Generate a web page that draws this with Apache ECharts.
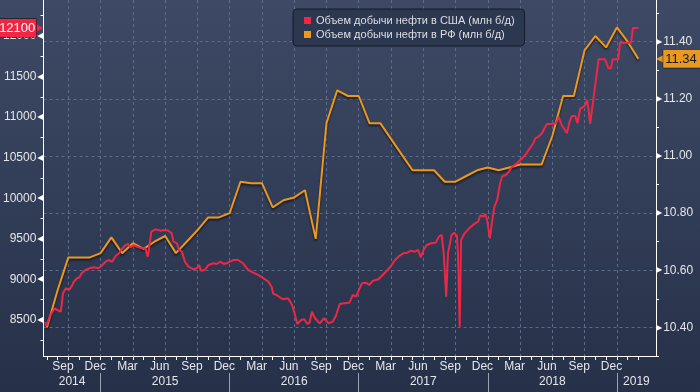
<!DOCTYPE html>
<html><head><meta charset="utf-8">
<script src="https://cdn.jsdelivr.net/npm/echarts@6/dist/echarts.min.js"></script>
<style>html,body{margin:0;padding:0;background:#2a3450;}#c{width:700px;height:392px;}</style>
</head><body><div id="c"></div>
<script>
const seriesNames = ['Объем добычи нефти в США (млн б/д)', 'Объем добычи нефти в РФ (млн б/д)'];
const monthNames = ['Jan','Feb','Mar','Apr','May','Jun','Jul','Aug','Sep','Oct','Nov','Dec'];
const yearLabels = ['2014','2015','2016','2017','2018','2019'];
const leftLabels = [8500, 9000, 9500, 10000, 10500, 11000, 11500, 12000];
const leftMinor = [8250, 8750, 9250, 9750, 10250, 10750, 11250, 11750, 12250];
const rightLabels = [10.4, 10.6, 10.8, 11.0, 11.2, 11.4];
const rightMinor = [10.3, 10.5, 10.7, 10.9, 11.1, 11.3, 11.5];

const rfMonths = ['2014-08','2014-09','2014-10','2014-11','2014-12',
 '2015-01','2015-02','2015-03','2015-04','2015-05','2015-06','2015-07','2015-08','2015-09','2015-10','2015-11','2015-12',
 '2016-01','2016-02','2016-03','2016-04','2016-05','2016-06','2016-07','2016-08','2016-09','2016-10','2016-11','2016-12',
 '2017-01','2017-02','2017-03','2017-04','2017-05','2017-06','2017-07','2017-08','2017-09','2017-10','2017-11','2017-12',
 '2018-01','2018-02','2018-03','2018-04','2018-05','2018-06','2018-07','2018-08','2018-09','2018-10','2018-11','2018-12',
 '2019-01','2019-02','2019-03'];
const rfValues = [10.40,10.53,10.645,10.645,10.645,
 10.66,10.715,10.66,10.695,10.675,10.70,10.72,10.66,10.70,10.74,10.785,10.785,
 10.80,10.91,10.905,10.905,10.82,10.845,10.855,10.88,10.71,11.115,11.23,11.21,
 11.21,11.115,11.115,11.06,11.005,10.95,10.95,10.95,10.91,10.91,10.93,10.95,
 10.96,10.95,10.96,10.97,10.97,10.97,11.07,11.21,11.21,11.37,11.42,11.38,
 11.45,11.40,11.34];

const usDates = ['2014-07-27','2014-07-31','2014-08-09','2014-08-17','2014-08-24','2014-08-31','2014-09-10','2014-09-16','2014-09-24',
 '2014-10-03','2014-10-10','2014-10-17','2014-10-26','2014-11-02','2014-11-08','2014-11-19','2014-11-30','2014-12-12','2014-12-26',
 '2015-01-06','2015-01-15','2015-01-24','2015-02-03','2015-02-12','2015-02-21','2015-02-26','2015-03-08','2015-03-18','2015-03-24',
 '2015-04-03','2015-04-17','2015-04-26','2015-05-06','2015-05-13','2015-05-17','2015-05-23','2015-06-04','2015-06-17','2015-07-01',
 '2015-07-10','2015-07-20','2015-07-25','2015-07-29','2015-08-04','2015-08-10','2015-08-18','2015-08-27','2015-09-06','2015-09-20',
 '2015-09-29','2015-10-06','2015-10-11','2015-10-22','2015-11-02','2015-11-16','2015-11-25','2015-12-04','2015-12-16','2015-12-27',
 '2016-01-11','2016-01-25','2016-02-08','2016-02-22','2016-03-07','2016-03-21','2016-04-05','2016-04-19','2016-04-28','2016-05-02',
 '2016-05-16','2016-05-30','2016-06-14','2016-06-25','2016-07-02','2016-07-10','2016-07-21','2016-07-30','2016-08-08','2016-08-14',
 '2016-08-21','2016-08-30','2016-09-12','2016-09-24','2016-10-07','2016-10-19','2016-10-28','2016-11-08','2016-11-21','2016-12-05',
 '2016-12-15','2016-12-24','2017-01-10','2017-01-22','2017-01-31','2017-02-10','2017-02-24','2017-03-08','2017-03-22','2017-04-01',
 '2017-04-12','2017-04-24','2017-05-06','2017-05-17','2017-05-27','2017-06-08','2017-06-17','2017-06-24','2017-07-02','2017-07-11',
 '2017-07-24','2017-08-06','2017-08-15','2017-08-23','2017-08-29','2017-09-05','2017-09-10','2017-09-20','2017-09-27','2017-10-05',
 '2017-10-08','2017-10-13','2017-10-17','2017-10-27','2017-11-09','2017-11-23','2017-12-04','2017-12-11','2017-12-19','2017-12-25',
 '2017-12-30','2018-01-07','2018-01-14','2018-01-20','2018-01-28','2018-02-05','2018-02-11','2018-02-20','2018-02-28','2018-03-09',
 '2018-03-23','2018-04-07','2018-04-19','2018-04-28','2018-05-08','2018-05-14','2018-05-23','2018-06-02','2018-06-09','2018-06-16',
 '2018-06-30','2018-07-12','2018-07-19','2018-07-28','2018-08-12','2018-08-19','2018-08-26','2018-09-05','2018-09-11','2018-09-19',
 '2018-09-26','2018-10-03','2018-10-08','2018-10-12','2018-10-17','2018-10-21','2018-10-31','2018-11-10','2018-11-28','2018-12-08',
 '2018-12-15','2018-12-20','2019-01-05','2019-01-10','2019-02-10','2019-02-15','2019-03-01'];
const usValues = [8475,8426,8541,8602,8644,8623,8602,8829,8891,
 8870,8910,8972,9014,9026,9076,9116,9137,9149,9137,
 9178,9218,9239,9218,9289,9322,9363,9412,9437,9396,
 9421,9396,9384,9384,9280,9396,9588,9618,9601,9609,
 9601,9568,9465,9486,9445,9363,9342,9218,9157,9125,
 9137,9178,9108,9116,9178,9199,9190,9218,9190,9206,
 9239,9239,9199,9116,9083,9055,9014,8972,8910,8829,
 8796,8755,8767,8685,8583,8451,8500,8509,8451,8467,
 8602,8521,8459,8521,8459,8479,8549,8697,8706,8713,
 8808,8787,8952,8960,8931,8984,9002,9055,9116,9165,
 9239,9289,9322,9329,9354,9342,9363,9273,9363,9424,
 9445,9453,9527,9548,9322,8787,9322,9548,9576,9535,
 9322,8417,9486,9568,9630,9683,9711,9794,9773,9803,
 9732,9507,9732,9896,9979,10185,10275,10287,10328,10389,
 10431,10493,10554,10616,10678,10739,10759,10801,10863,10916,
 10916,10924,11005,10903,10801,10932,11014,11014,10924,11109,
 11121,11150,11212,11109,10916,10916,11375,11713,11713,11602,
 11602,11713,11713,11918,11918,12100,12100];

// month index: 0 = Jan 2014
function monthIndex(s) {
  const p = s.split('-').map(Number);
  const Y = p[0], M = p[1], D = p[2] || 1;
  const dim = new Date(Y, M, 0).getDate();
  return (Y - 2014) * 12 + (M - 1) + (D - 1) / dim;
}
const X_MIN = 6.69, X_MAX = 63.64;

const usData = usDates.map((d, i) => [monthIndex(d), usValues[i]]);
const rfData = rfMonths.map((d, i) => [monthIndex(d), rfValues[i]]);

const monthTicks = []; for (let m = 7; m <= 62; m++) monthTicks.push(m);
const monthLabelPos = []; for (let m = 8; m <= 59; m += 3) monthLabelPos.push(m + 0.5);
const quarterLines = []; for (let m = 9; m <= 60; m += 3) quarterLines.push(m);
const yearBounds = [12, 24, 36, 48, 60];
const yearLabelPos = yearLabels.map((y, i) => {
  const a = Math.max(X_MIN, i * 12), b = Math.min(X_MAX, (i + 1) * 12);
  return (a + b) / 2;
});

const txt = '#e4e6ea';
const font = 'Liberation Sans, Arial, sans-serif';
const red = '#ee2747';
const orange = '#ec971f';
const grid = '#5c6b88';
const lastUS = usValues[usValues.length - 1];
const lastRF = rfValues[rfValues.length - 1];

const chart = echarts.init(document.getElementById('c'), null, {renderer: 'canvas'});
chart.setOption({
  animation: false,
  backgroundColor: new echarts.graphic.LinearGradient(0, 0, 0, 1, [
    {offset: 0, color: '#3e4a65'}, {offset: 1, color: '#263049'}
  ]),
  legend: {
    orient: 'vertical', left: 293, top: 9,
    padding: [6, 10, 6, 11], itemGap: 3, itemWidth: 7, itemHeight: 7,
    icon: 'rect',
    backgroundColor: '#2c3750', borderColor: '#151b29', borderWidth: 1, borderRadius: 4,
    textStyle: {color: '#dcdfe4', fontSize: 11, fontFamily: font},
    data: seriesNames
  },
  grid: {left: 41, right: 44, top: 0, bottom: 36, containLabel: false},
  xAxis: [
    {
      type: 'value', position: 'bottom', min: X_MIN, max: X_MAX,
      axisLine: {show: true, onZero: false, lineStyle: {color: '#ffffff', width: 1}},
      axisTick: {show: true, customValues: monthTicks, length: 4, lineStyle: {color: '#ffffff'}},
      axisLabel: {show: true, customValues: monthLabelPos, margin: 5, color: txt, fontSize: 12, fontFamily: font,
        formatter: v => monthNames[Math.floor(v) % 12]},
      splitLine: {show: false}
    },
    {
      type: 'value', position: 'bottom', offset: 17, min: X_MIN, max: X_MAX,
      axisLine: {show: false, onZero: false},
      axisTick: {show: true, customValues: yearBounds, length: 19, lineStyle: {color: '#9aa2b3'}},
      axisLabel: {show: true, customValues: yearLabelPos, margin: 3, color: txt, fontSize: 12, fontFamily: font,
        formatter: v => yearLabels[Math.floor(v / 12)]},
      splitLine: {show: false}
    },
    {
      type: 'value', position: 'bottom', min: X_MIN, max: X_MAX,
      axisLine: {show: false, onZero: false},
      axisTick: {show: false, customValues: quarterLines},
      axisLabel: {show: false},
      splitLine: {show: true, lineStyle: {color: grid, type: [3, 3], width: 1}}
    }
  ],
  yAxis: [
    {
      type: 'value', position: 'left', min: 8056, max: 12444,
      axisLine: {show: true, lineStyle: {color: '#ffffff'}},
      axisTick: {show: true, customValues: leftMinor, length: 3, lineStyle: {color: '#ffffff'}},
      axisLabel: {show: true, customValues: leftLabels, margin: 0,
        formatter: v => '{v|' + v + '}{a|◀}',
        rich: {
          v: {color: txt, fontSize: 12, fontFamily: font},
          a: {color: '#ffffff', fontSize: 8, fontFamily: 'DejaVu Sans', padding: [0, 0, 0, 1]}
        }},
      splitLine: {show: false}
    },
    {
      type: 'value', position: 'right', min: 10.30, max: 11.546,
      axisLine: {show: true, lineStyle: {color: '#ffffff'}},
      axisTick: {show: true, customValues: rightMinor, length: 3, lineStyle: {color: '#ffffff'}},
      axisLabel: {show: true, customValues: rightLabels, margin: 0,
        formatter: v => '{a|▶}{v|' + v.toFixed(2) + '}',
        rich: {
          v: {color: txt, fontSize: 12, fontFamily: font},
          a: {color: '#ffffff', fontSize: 8, fontFamily: 'DejaVu Sans', padding: [0, 1, 0, 0]}
        }},
      splitLine: {show: false}
    },
    {
      type: 'value', position: 'right', min: 10.30, max: 11.546,
      axisLine: {show: false},
      axisTick: {show: false, customValues: rightLabels},
      axisLabel: {show: false},
      splitLine: {show: true, lineStyle: {color: grid, type: [3, 3], width: 1}}
    }
  ],
  series: [
    {
      name: seriesNames[0], type: 'line', xAxisIndex: 0, yAxisIndex: 0,
      data: usData, showSymbol: false, symbol: 'none', clip: false,
      itemStyle: {color: red},
      lineStyle: {color: red, width: 2},
      z: 3,
      markLine: {
        silent: true, symbol: ['none', 'none'], animation: false,
        lineStyle: {color: 'rgba(0,0,0,0)', width: 0, type: 'solid'},
        emphasis: {disabled: true},
        data: [{yAxis: lastUS}],
        label: {
          show: true, position: 'start', distance: 0,
          formatter: () => '{b|' + lastUS + '}{t|▶}',
          rich: {
            b: {color: '#ffffff', backgroundColor: red, fontSize: 13, fontFamily: font,
                padding: [3, 1, 2, 2], borderColor: '#111', borderWidth: 0.5},
            t: {color: red, fontSize: 12, fontFamily: 'DejaVu Sans', padding: [0, 0, 0, -2]}
          }
        }
      }
    },
    {
      name: seriesNames[1], type: 'line', xAxisIndex: 0, yAxisIndex: 1,
      data: rfData, showSymbol: false, symbol: 'none', clip: false,
      itemStyle: {color: orange},
      lineStyle: {color: orange, width: 2, shadowColor: 'rgba(0,0,0,0.55)', shadowBlur: 2, shadowOffsetY: 2},
      z: 2,
      markLine: {
        silent: true, symbol: ['none', 'none'], animation: false,
        lineStyle: {color: 'rgba(0,0,0,0)', width: 0, type: 'solid'},
        emphasis: {disabled: true},
        data: [{yAxis: lastRF}],
        label: {
          show: true, position: 'end', distance: 0,
          formatter: () => '{t|◀}{b|' + lastRF.toFixed(2) + '}',
          rich: {
            b: {color: '#1a1a1a', backgroundColor: orange, fontSize: 13, fontFamily: font,
                padding: [3, 6, 2, 2], borderColor: '#111', borderWidth: 0.5},
            t: {color: orange, fontSize: 12, fontFamily: 'DejaVu Sans', padding: [0, -2, 0, 0]}
          }
        }
      }
    }
  ]
});
</script></body></html>
